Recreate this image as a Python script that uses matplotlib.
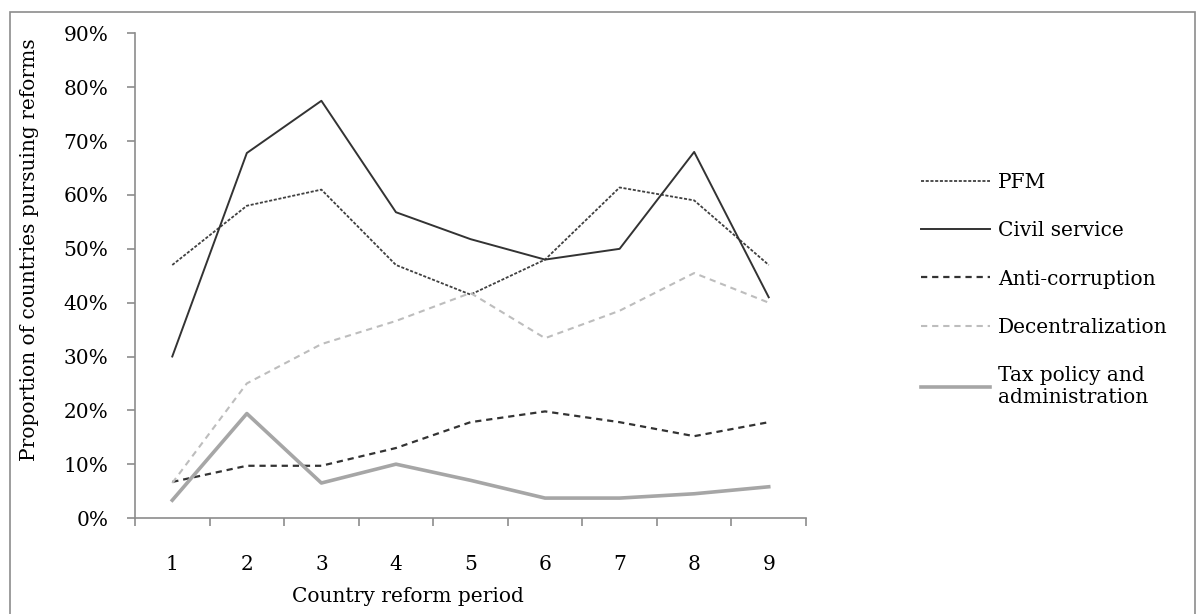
import numpy as np
import matplotlib
matplotlib.use("Agg")
import matplotlib.pyplot as plt
from matplotlib.patches import Rectangle
from matplotlib.ticker import FixedLocator, PercentFormatter

periods = [1, 2, 3, 4, 5, 6, 7, 8, 9]
pfm = [0.47, 0.58, 0.61, 0.47, 0.415, 0.48, 0.614, 0.59, 0.47]
civil_service = [0.30, 0.678, 0.775, 0.568, 0.518, 0.48, 0.50, 0.68, 0.41]
anti_corruption = [0.067, 0.097, 0.097, 0.13, 0.178, 0.198, 0.178, 0.152, 0.178]
decentralization = [0.065, 0.25, 0.323, 0.366, 0.418, 0.334, 0.385, 0.455, 0.40]
tax_policy = [0.033, 0.194, 0.065, 0.10, 0.07, 0.037, 0.037, 0.045, 0.058]

labels = ["PFM", "Civil service", "Anti-corruption", "Decentralization",
          "Tax policy and\nadministration"]

plt.rcParams["font.family"] = ["DejaVu Serif"]
plt.rcParams["lines.scale_dashes"] = False
fs = 14.5

fig = plt.figure(figsize=(11.97, 6.14), dpi=100)
W, H = 1197, 614
ax = fig.add_axes([135 / W, (H - 518) / H, (806 - 135) / W, (518 - 33.5) / H])

ax.plot(periods, pfm, color="#404040", lw=1.3, linestyle=(0, (2.2, 1.2)), label=labels[0])
ax.plot(periods, civil_service, color="#333333", lw=1.4, label=labels[1])
ax.plot(periods, anti_corruption, color="#333333", lw=1.6, linestyle=(0, (4.5, 3.5)), label=labels[2])
ax.plot(periods, decentralization, color="#bdbdbd", lw=1.5, linestyle=(0, (4.5, 3.5)), label=labels[3])
ax.plot(periods, tax_policy, color="#a6a6a6", lw=2.6, label=labels[4])

ax.set_xlim(0.5, 9.5)
ax.set_ylim(0, 0.9)
ax.set_yticks(np.arange(0, 0.91, 0.1))
ax.yaxis.set_major_formatter(PercentFormatter(1.0, decimals=0))
ax.set_xticks(periods)
ax.xaxis.set_minor_locator(FixedLocator(np.arange(0.5, 10, 1)))

for s in ["top", "right"]:
    ax.spines[s].set_visible(False)
for s in ["left", "bottom"]:
    ax.spines[s].set_color("#8c8c8c")
    ax.spines[s].set_linewidth(1.2)

ax.tick_params(axis="y", length=6, width=1.2, color="#8c8c8c", pad=13, labelsize=fs)
ax.tick_params(axis="x", which="major", length=0, pad=27, labelsize=fs)
ax.tick_params(axis="x", which="minor", length=6, width=1.2, color="#8c8c8c")

fig.text(408 / W, 1 - 597 / H, "Country reform period", ha="center", va="center", fontsize=fs)
fig.text(30 / W, 1 - 250 / H, "Proportion of countries pursuing reforms",
         rotation=90, ha="center", va="center", fontsize=fs)

ax.legend(loc="upper left", bbox_to_anchor=(903 / W, 1 - 155 / H),
          bbox_transform=fig.transFigure, frameon=False, fontsize=fs,
          handlelength=3.4, handletextpad=0.4, labelspacing=1.45)

fig.patches.append(Rectangle((10 / W, -0.01), (1195 - 10) / W, 1.01 - 12 / H,
                             transform=fig.transFigure, fill=False,
                             edgecolor="#8c8c8c", lw=1.2))

fig.savefig("out.png", dpi=100)
